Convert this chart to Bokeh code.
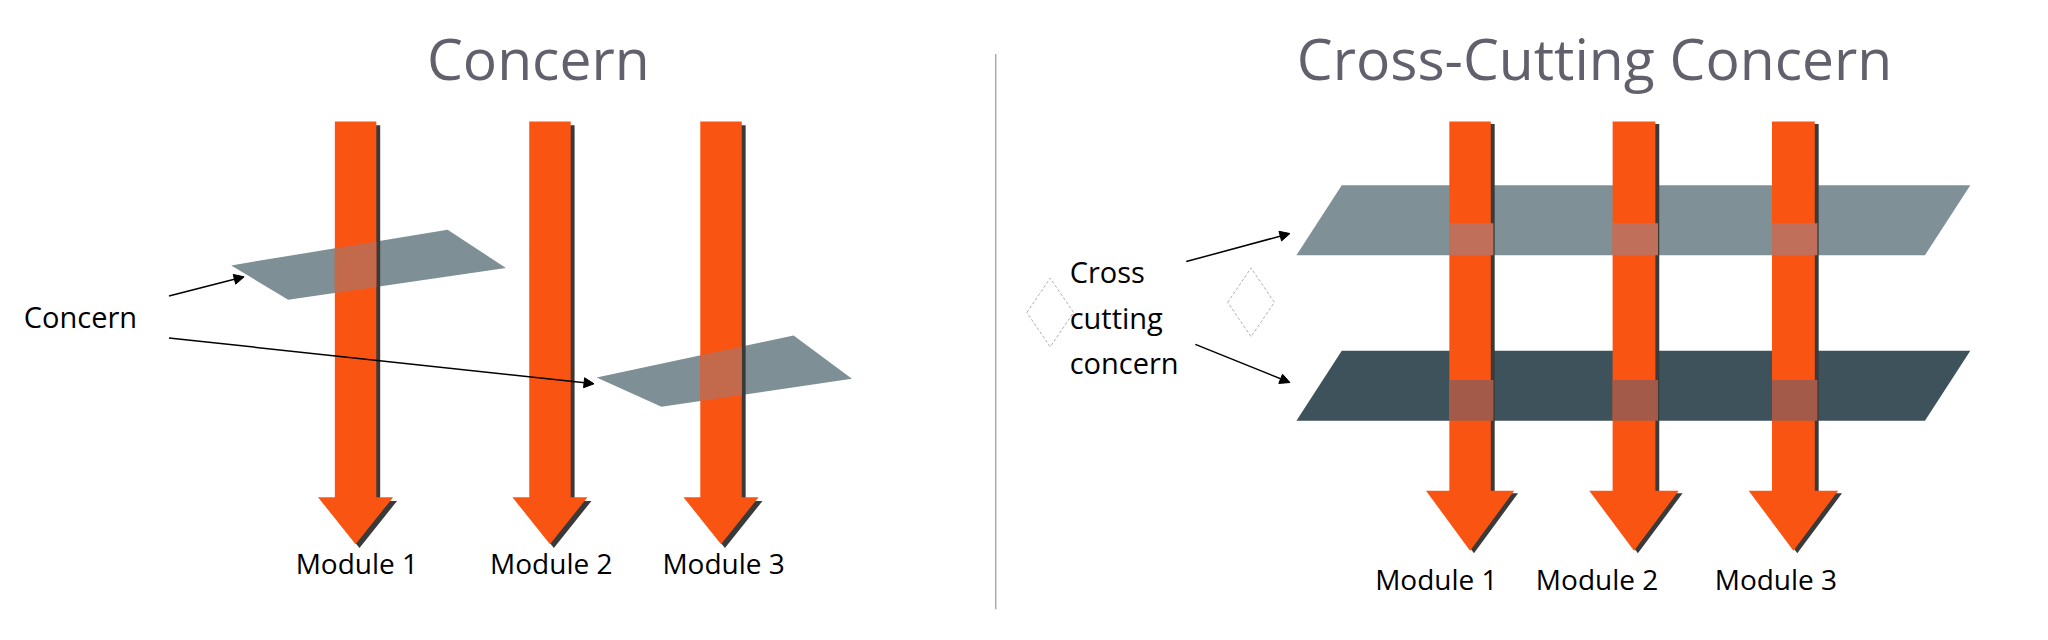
from bokeh.core.properties import value
from bokeh.embed import file_html
from bokeh.models import Arrow, NormalHead, Range1d
from bokeh.plotting import figure
from bokeh.resources import INLINE

# coordinates are in a 1568 x 490 reference frame (y grows downward)
titles = ["Concern", "Cross-Cutting Concern"]
title_x = [415, 1230]
title_y = [45, 45]

# module shafts (left edge, right edge), top, shaft end, tip
left_shafts = [(258, 290), (408, 440), (540, 572)]
left_top, left_shaft_end, left_tip, left_head_pad = 95, 390, 427, 13
left_labels = ["Module 1", "Module 2", "Module 3"]
left_label_x = [275, 425, 558]
left_label_y = 442

right_shafts = [(1118, 1150), (1244, 1277), (1367, 1400)]
right_top, right_shaft_end, right_tip, right_head_pad = 95, 385, 432, 18
right_labels = ["Module 1", "Module 2", "Module 3"]
right_label_x = [1108, 1232, 1370]
right_label_y = 454

# concern planes (parallelograms)
left_planes = [
    ([178, 345, 390, 222], [208, 180, 210, 235]),
    ([460, 612, 657, 510], [296, 263, 297, 319]),
]
right_planes = [
    ([1000, 1035, 1520, 1485], [200, 145, 145, 200], "#7f9097"),
    ([1000, 1035, 1520, 1485], [330, 275, 275, 330], "#3e525c"),
]
# overlap bands on the right planes (top, bottom)
right_bands = [(175, 200), (298, 330)]

pointer_arrows = [
    ((130, 232), (188, 217)),
    ((130, 265), (458, 301)),
    ((915, 205), (995, 183)),
    ((922, 270), (995, 300)),
]
diamonds = [(810, 245, 18, 27), (965, 237, 18, 27)]

ORANGE = "#fa5412"
SHADOW = "#3a3a3a"
FONT = value("Open Sans")

p = figure(width=2032, height=624, x_range=Range1d(0, 1568), y_range=Range1d(490, 0),
           output_backend="svg", toolbar_location=None, min_border=0)
p.axis.visible = False
p.grid.visible = False
p.outline_line_color = None
p.background_fill_color = "white"


def arrow_shape(x0, x1, top, end, tip, pad):
    mid = (x0 + x1) / 2
    xs = [x0, x1, x1, x1 + pad, mid, x0 - pad, x0]
    ys = [top, top, end, end, tip, end, end]
    return xs, ys


def edge(xa, ya, xb, yb, x):
    return ya + (yb - ya) * (x - xa) / (xb - xa)


# left panel: planes behind arrows, overlap drawn on top
for xs, ys in left_planes:
    p.patch(xs, ys, fill_color="#7f8f96", line_color=None)
for x0, x1 in left_shafts:
    xs, ys = arrow_shape(x0, x1, left_top, left_shaft_end, left_tip, left_head_pad)
    p.patch([x + 3 for x in xs], [y + 3 for y in ys], fill_color=SHADOW, line_color=None)
    p.patch(xs, ys, fill_color=ORANGE, line_color=None)

left_overlaps = [
    (left_shafts[0], left_planes[0]),
    (left_shafts[2], left_planes[1]),
]
for (x0, x1), (pxs, pys) in left_overlaps:
    t0 = edge(pxs[0], pys[0], pxs[1], pys[1], x0)
    t1 = edge(pxs[0], pys[0], pxs[1], pys[1], x1)
    b0 = edge(pxs[3], pys[3], pxs[2], pys[2], x0)
    b1 = edge(pxs[3], pys[3], pxs[2], pys[2], x1)
    p.patch([x0, x1, x1, x0], [t0, t1, b1, b0], fill_color="#c46a4c", line_color=None)

# right panel
for xs, ys, c in right_planes:
    p.patch(xs, ys, fill_color=c, line_color=None)
for x0, x1 in right_shafts:
    xs, ys = arrow_shape(x0, x1, right_top, right_shaft_end, right_tip, right_head_pad)
    p.patch([x + 3 for x in xs], [y + 2 for y in ys], fill_color=SHADOW, line_color=None)
    p.patch(xs, ys, fill_color=ORANGE, line_color=None)
    for (b_top, b_bot), col in zip(right_bands, ["#c0705a", "#a45a48"]):
        p.quad(left=x0, right=x1 + 2, top=b_top, bottom=b_bot, fill_color=col, line_color=None)

for cx, cy, hw, hh in diamonds:
    p.patch([cx - hw, cx, cx + hw, cx], [cy, cy - hh, cy, cy + hh], fill_color=None,
            line_color="#b0b0b0", line_width=1, line_dash="3 2")

for (xa, ya), (xb, yb) in pointer_arrows:
    p.add_layout(Arrow(end=NormalHead(size=10, fill_color="black", line_color="black"),
                       x_start=xa, y_start=ya, x_end=xb, y_end=yb,
                       line_color="black", line_width=1.5))

# divider
p.line([768, 768], [42, 478], line_color="#999999", line_width=1.2)

p.text(x=title_x, y=title_y, text=titles, text_font=FONT, text_font_size="57px",
       text_color="#62606c", text_align="center", text_baseline="middle")
p.text(x=left_label_x, y=[left_label_y] * 3, text=left_labels, text_font=FONT,
       text_font_size="28px", text_color="black", text_align="center", text_baseline="middle")
p.text(x=right_label_x, y=[right_label_y] * 3, text=right_labels, text_font=FONT,
       text_font_size="28px", text_color="black", text_align="center", text_baseline="middle")
p.text(x=[18], y=[248], text=["Concern"], text_font=FONT, text_font_size="29px",
       text_color="black", text_baseline="middle")
p.text(x=[825, 825, 825], y=[213, 249, 284], text=["Cross", "cutting", "concern"],
       text_font=FONT, text_font_size="29px", text_color="black", text_baseline="middle")

open("out.html", "w").write(file_html(p, INLINE))
